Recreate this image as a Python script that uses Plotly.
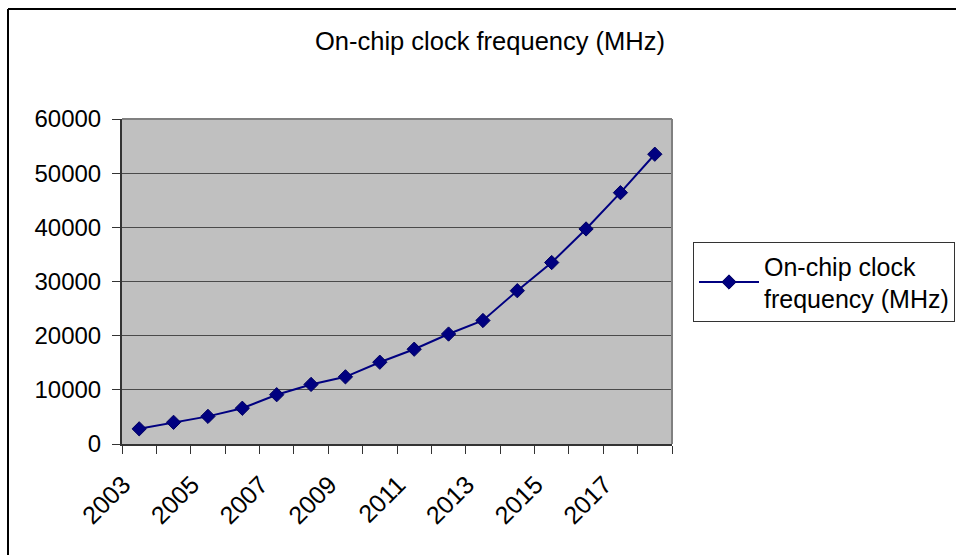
import plotly.graph_objects as go

# On-chip clock frequency projection, MHz per year
years = [str(y) for y in range(2003, 2019)]
freq_mhz = [2800, 4000, 5100, 6600, 9100, 11000, 12400, 15100,
            17500, 20300, 22800, 28300, 33500, 39700, 46400, 53500]
tick_labels = [y if i % 2 == 0 else "" for i, y in enumerate(years)]
series_name = "On-chip clock<br>frequency (MHz)"
title_text = "On-chip clock frequency (MHz)"

W, H = 956, 555
L, R, T, B = 122, 284, 119, 111
pw, ph = W - L - R, H - T - B

FONT = "Arial, Liberation Sans, sans-serif"

def px_x(x):
    return (x - L) / pw

def px_y(y):
    return (H - B - y) / ph

fig = go.Figure()
fig.add_trace(go.Scatter(
    x=years, y=freq_mhz, name=series_name, mode="lines+markers",
    line=dict(color="#000080", width=2),
    marker=dict(symbol="diamond", size=11, color="#000080",
                line=dict(color="#000060", width=1)),
))

fig.update_layout(
    width=W, height=H,
    margin=dict(l=L, r=R, t=T, b=B, autoexpand=False),
    paper_bgcolor="white",
    plot_bgcolor="#C0C0C0",
    font=dict(family=FONT, size=24, color="black"),
    title=dict(text=title_text, x=490 / W, xanchor="center",
               y=1 - 41 / H, yanchor="middle", xref="container", yref="container",
               font=dict(family=FONT, size=25.5, color="black")),
    showlegend=True,
    legend=dict(x=px_x(693), y=px_y(242), xanchor="left", yanchor="top",
                bgcolor="white", bordercolor="#333333", borderwidth=1,
                font=dict(family=FONT, size=25, color="black"),
                itemwidth=60, entrywidth=182, entrywidthmode="pixels",
                tracegroupgap=0),
    xaxis=dict(
        type="category", range=[-0.5, len(years) - 0.5],
        tickmode="array", tickvals=years, ticktext=tick_labels,
        tickson="boundaries", ticks="outside", ticklen=8, tickwidth=1,
        tickcolor="#333333", tickangle=-45,
        ticklabelshift=-16, ticklabelstandoff=14,
        showline=True, linecolor="#333333", linewidth=2,
        showgrid=False, zeroline=False,
        tickfont=dict(family=FONT, size=25, color="black"),
    ),
    yaxis=dict(
        range=[0, 60000], dtick=10000, tickformat="d",
        ticks="outside", ticklen=8, tickwidth=1, tickcolor="#333333",
        showline=True, linecolor="#333333", linewidth=2,
        showgrid=True, gridcolor="#4a4a4a", gridwidth=1,
        zeroline=False, ticklabelstandoff=6,
        tickfont=dict(family=FONT, size=24, color="black"),
    ),
    shapes=[
        # plot-area top and right edges
        dict(type="line", xref="paper", yref="paper", x0=0, x1=1, y0=1, y1=1,
             line=dict(color="#808080", width=2)),
        dict(type="line", xref="paper", yref="paper", x0=1, x1=1, y0=0, y1=1,
             line=dict(color="#808080", width=2)),
        # chart frame
        dict(type="line", xref="paper", yref="paper",
             x0=px_x(8), x1=px_x(8), y0=px_y(9), y1=px_y(H + 20),
             line=dict(color="black", width=2)),
        dict(type="line", xref="paper", yref="paper",
             x0=px_x(8), x1=px_x(W + 20), y0=px_y(9), y1=px_y(9),
             line=dict(color="black", width=2)),
    ],
)

fig.write_html("out.html")
